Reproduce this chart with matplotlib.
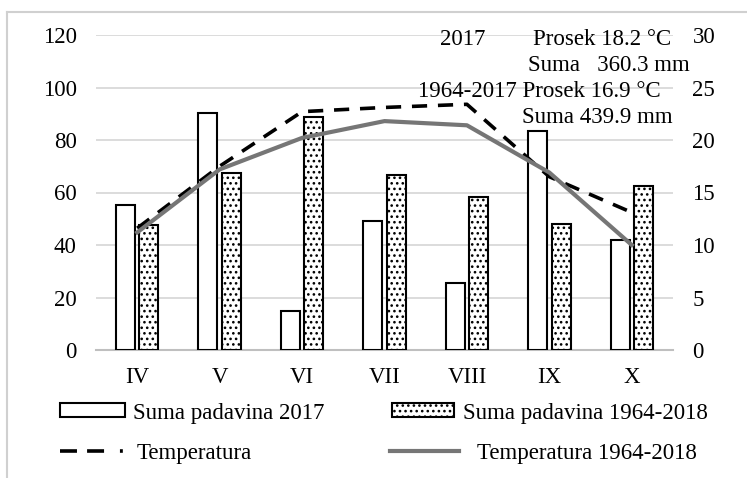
import matplotlib.pyplot as plt
import matplotlib.patches as mpatches
from matplotlib.lines import Line2D
from matplotlib.legend import Legend
import numpy as np

plt.rcParams['font.family'] = ['Liberation Serif', 'DejaVu Serif']
plt.rcParams['hatch.linewidth'] = 1.1
plt.rcParams['hatch.color'] = '#222222'

# -- Data --
months = ["IV", "V", "VI", "VII", "VIII", "IX", "X"]
rain_2017 = [55.3, 90.3, 15.0, 49.3, 25.7, 83.5, 41.8]
rain_long = [47.7, 67.5, 88.6, 66.6, 58.2, 48.0, 62.6]
temp_2017 = [11.6, 17.5, 22.7, 23.1, 23.4, 16.5, 13.1]
temp_long = [11.2, 17.2, 20.2, 21.8, 21.4, 16.9, 10.0]

W, H = 747, 478
FS = 16.5
fig = plt.figure(figsize=(W / 100, H / 100), dpi=100)
ax = fig.add_axes([96 / W, 1 - 350 / H, (673 - 96) / W, (350 - 35) / H])
ax2 = ax.twinx()

x = np.arange(len(months))
bw = 0.23
ax.bar(x - 0.142, rain_2017, bw, color="white", edgecolor="black", linewidth=1.5, zorder=3)
ax.bar(x + 0.142, rain_long, bw, color="white", edgecolor="black", linewidth=1.5,
       hatch="...", zorder=3)

ax2.plot(x, temp_2017, color="black", linewidth=2.6, linestyle=(0, (4.2, 3.0)), zorder=4)
ax2.plot(x, temp_long, color="#767676", linewidth=3, zorder=5)

ax.set_xlim(-0.5, 6.5)
ax.set_ylim(0, 120)
ax2.set_ylim(0, 30)
ax.set_yticks(range(0, 121, 20))
ax2.set_yticks(range(0, 31, 5))
ax.set_xticks(x)
ax.set_xticklabels(months)
ax.grid(axis="y", color="#d9d9d9", linewidth=1.3, zorder=0)
ax.set_axisbelow(True)

for a in (ax, ax2):
    for s in a.spines.values():
        s.set_visible(False)
    a.tick_params(length=0, labelsize=FS)
ax.spines["bottom"].set_visible(True)
ax.spines["bottom"].set_color("#bfbfbf")
ax.spines["bottom"].set_linewidth(1.5)
ax.tick_params(axis="y", pad=14)
ax.tick_params(axis="x", pad=12)
ax2.tick_params(axis="y", pad=14)

# -- Annotation --
def ftext(px, py, s):
    fig.text(px / W, 1 - py / H, s, fontsize=FS, ha="left", va="center_baseline")

ftext(440, 37, "2017")
ftext(533, 37, "Prosek 18.2 °C")
ftext(528, 63, "Suma   360.3 mm")
ftext(418, 89, "1964-2017 Prosek 16.9 °C")
ftext(522, 115, "Suma 439.9 mm")

# -- Legend (one entry each, placed like the original) --
h1 = mpatches.Patch(facecolor="white", edgecolor="black", linewidth=1.5)
h2 = mpatches.Patch(facecolor="white", edgecolor="black", linewidth=1.5, hatch="...")
h3 = Line2D([], [], color="black", linewidth=2.6,
            linestyle=(0, (4.7, 2.8, 4.7, 4.4, 0.8, 3.0)))
h4 = Line2D([], [], color="#767676", linewidth=3)
entries = [
    (h1, "Suma padavina 2017", 60, 413, 2.84, 0.35),
    (h2, "Suma padavina 1964-2018", 392, 413, 2.7, 0.39),
    (h3, "Temperatura", 60, 453, 2.97, 0.39),
    (h4, "Temperatura 1964-2018", 390, 453, 3.0, 0.79),
]
for h, lab, px, py, hl, tp in entries:
    leg = Legend(fig, [h], [lab], loc="center left",
                 bbox_to_anchor=(px / W, 1 - py / H), bbox_transform=fig.transFigure,
                 frameon=False, fontsize=FS, handlelength=hl, handleheight=0.55,
                 handletextpad=tp, borderpad=0, borderaxespad=0)
    fig.add_artist(leg)

# -- Chart frame --
fig.add_artist(Line2D([7 / W, 7 / W], [0, 1 - 12 / H], color="#d0d0d0", linewidth=1.5))
fig.add_artist(Line2D([7 / W, 1], [1 - 12 / H, 1 - 12 / H], color="#d0d0d0", linewidth=1.5))

fig.savefig("out.png", dpi=100)
